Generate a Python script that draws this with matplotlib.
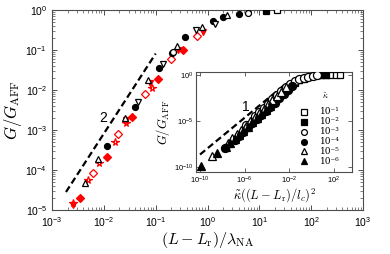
import numpy as np
import matplotlib
matplotlib.use("Agg")
import matplotlib.pyplot as plt

plt.rcParams['font.family'] = ['Liberation Sans', 'DejaVu Sans']
plt.rcParams['mathtext.fontset'] = 'cm'

# ---------------- main panel data (log10 values) ----------------
blk_fcirc_x = [-1.94, -1.40, -0.93, -0.68, -0.43, 0.11, 0.30, 0.60]
blk_fcirc_y = [-3.40, -2.42, -1.45, -1.08, -0.67, -0.27, -0.17, -0.10]
blk_otri_x = [-2.36, -2.11, -1.59, -1.14, -0.58, -0.10, 0.38]
blk_otri_y = [-4.33, -3.73, -2.70, -1.75, -0.90, -0.42, -0.12]
blk_odtri_x = [-1.34, -0.85, -0.23, 0.15]
blk_odtri_y = [-2.30, -1.35, -0.50, -0.35]
blk_ocirc_x = [-0.66, 0.79]
blk_ocirc_y = [-1.06, -0.08]
blk_fsq_x = [1.12]
blk_fsq_y = [-0.03]
blk_osq_x = [1.35]
blk_osq_y = [0.0]
red_fdia_x = [-2.46, -1.94, -1.45, -0.95, -0.47]
red_fdia_y = [-4.70, -3.67, -2.67, -1.72, -1.00]
red_odia_x = [-2.20, -1.72, -1.20, -0.70, -0.20]
red_odia_y = [-4.08, -3.10, -2.10, -1.23, -0.65]
red_star_x = [-2.59, -2.30, -2.09, -1.78, -1.57, -1.07]
red_star_y = [-4.83, -4.25, -3.83, -3.30, -2.82, -1.95]
red_fdtri_x = [-2.59, -1.57, -1.10, -0.56, -0.08]
red_fdtri_y = [-4.87, -2.75, -1.83, -1.00, -0.55]
slope2_x = [-2.73, -1.00]
slope2_y = [-4.55, -1.09]

# ---------------- inset data (log10 values) ----------------
kappa_labels = ['10\u207b\u00b9', '10\u207b\u00b2', '10\u207b\u00b3', '10\u207b\u2074', '10\u207b\u2075', '10\u207b\u2076']
k1_x = [-1.9, -1.1, -0.7, -0.3, 0.1, 0.5, 0.9, 1.3, 1.7, 2.2, 2.6]
k1_y = [-1.2, -0.55, -0.36, -0.2, -0.08, -0.01, 0.02, 0.03, 0.04, 0.05, 0.05]
k2_x = [-3.9, -3.1, -2.7, -2.3, -1.9, -1.5, -1.1, -0.7, -0.3, 0.1, 0.5, 0.9, 1.3]
k2_y = [-3.5, -2.5, -2.05, -1.6, -1.2, -0.85, -0.58, -0.38, -0.2, -0.08, -0.02, 0.02, 0.03]
k3_x = [-5.9, -5.1, -4.7, -4.3, -3.9, -3.5, -3.1, -2.7, -2.3, -1.9, -1.5, -1.1, -0.7, -0.3, 0.1, 0.5]
k3_y = [-5.4, -4.45, -4.0, -3.55, -3.1, -2.65, -2.15, -1.7, -1.3, -0.95, -0.68, -0.47, -0.32, -0.17, -0.06, 0.0]
k4_x = [-7.8, -6.9, -6.5, -6.1, -5.7, -5.3, -4.9, -4.5, -4.1, -3.7, -3.3, -2.9, -2.5, -2.1, -1.7]
k4_y = [-7.9, -7.05, -6.6, -6.15, -5.7, -5.25, -4.8, -4.35, -3.9, -3.45, -3.0, -2.5, -2.05, -1.6, -1.2]
k5_x = [-8.9, -7.5, -7.1, -6.7, -6.3, -5.9, -5.5, -5.1, -4.7, -4.3, -3.9, -3.5, -3.1, -2.7, -2.3]
k5_y = [-8.85, -7.35, -6.9, -6.45, -5.95, -5.5, -5.05, -4.6, -4.15, -3.65, -3.2, -2.75, -2.3, -1.8, -1.35]
k6_x = [-9.9, -8.5, -7.7, -7.3, -6.9, -6.5, -6.1, -5.7, -5.3, -4.9, -4.5, -4.1, -3.7]
k6_y = [-9.95, -8.5, -7.8, -7.4, -6.95, -6.5, -6.05, -5.6, -5.15, -4.7, -4.25, -3.8, -3.35]
slope1_x = [-10.0, -2.3]
slope1_y = [-8.65, -0.95]

def p(v):
    return np.power(10.0, np.asarray(v, dtype=float))

W, H = 390, 254
fig = plt.figure(figsize=(3.9, 2.54), dpi=100)
ax = fig.add_axes([52/W, 1-210/H, 311/W, 200/H])

ms = 4.3
def mk(ax_, x, y, marker, color, filled, size=ms, z=3, **kw):
    ax_.plot(x, y, linestyle='none', marker=marker, markersize=size,
             markerfacecolor=color if filled else 'white',
             markeredgecolor=color, markeredgewidth=0.9, zorder=z, **kw)

mk(ax, p(red_fdia_x), p(red_fdia_y), 'D', 'red', True, 3.6)
mk(ax, p(red_odia_x), p(red_odia_y), 'D', 'red', False, 3.6)
mk(ax, p(red_star_x), p(red_star_y), '*', 'red', False, 5.5)
mk(ax, p(red_fdtri_x), p(red_fdtri_y), 'v', 'red', True)
mk(ax, p(blk_fcirc_x), p(blk_fcirc_y), 'o', 'black', True)
mk(ax, p(blk_otri_x), p(blk_otri_y), '^', 'black', False)
mk(ax, p(blk_odtri_x), p(blk_odtri_y), 'v', 'black', False)
mk(ax, p(blk_ocirc_x), p(blk_ocirc_y), 'o', 'black', False)
mk(ax, p(blk_fsq_x), p(blk_fsq_y), 's', 'black', True, 3.8)
mk(ax, p(blk_osq_x), p(blk_osq_y), 's', 'black', False, 3.8)
ax.plot(p(slope2_x), p(slope2_y), color='black', lw=1.6, dashes=(3, 1.6), zorder=2)
ax.text(10**-2.015, 10**-2.7, '2', fontsize=10, ha='center', va='center')

ax.set_xscale('log'); ax.set_yscale('log')
ax.set_xlim(1e-3, 1e3); ax.set_ylim(1e-5, 1e0)
ax.set_xticks([10.0**k for k in range(-3, 4)])
ax.set_yticks([10.0**k for k in range(-5, 1)])
ax.tick_params(which='both', direction='in', top=True, right=True, labelsize=7.5, colors='0.3', labelcolor='black')
ax.tick_params(which='major', length=3.5, width=0.7)
ax.tick_params(which='minor', length=2, width=0.5)
for s in ax.spines.values():
    s.set_color('0.3'); s.set_linewidth(0.8)
ax.set_xlabel(r'$(L-L_{\rm r})/\lambda_{\rm NA}$', fontsize=11.5, labelpad=1)
ax.set_ylabel(r'$G/G_{\rm AFF}$', fontsize=12, labelpad=1)

# ---------------- inset ----------------
axi = fig.add_axes([196/W, 1-172/H, 156/W, 100/H])
ims = 5.8
series = [(k1_x, k1_y, 's', False, 4.8), (k2_x, k2_y, 's', True, 4.8),
          (k3_x, k3_y, 'o', False, ims), (k4_x, k4_y, 'o', True, ims),
          (k5_x, k5_y, '^', False, ims), (k6_x, k6_y, '^', True, ims)]
for (x, y, m, f, sz) in series:
    mk(axi, p(x), p(y), m, 'black', f, sz)
axi.plot(p(slope1_x), p(slope1_y), color='black', lw=1.6, dashes=(3, 1.6), zorder=2)
axi.text(10**-5.87, 10**-3.48, '1', fontsize=10, ha='center', va='center')
axi.set_xscale('log'); axi.set_yscale('log')
axi.set_xlim(10**-10.36, 10**3.64); axi.set_ylim(10**-10.55, 10**0.33)
axi.set_xticks([1e-10, 1e-6, 1e-2, 1e2])
axi.set_yticks([1e-10, 1e-5, 1e0])
axi.minorticks_off()
axi.tick_params(which='both', direction='in', top=True, right=True, labelsize=5.5,
                length=3, width=0.6, colors='0.3', labelcolor='black', pad=2)
for s in axi.spines.values():
    s.set_color('0.3'); s.set_linewidth(0.8)
axi.set_xlabel(r'$\tilde{\kappa}((L-L_{\rm r})/l_c)^2$', fontsize=9, labelpad=0)
axi.set_ylabel(r'$G/G_{\rm AFF}$', fontsize=9, labelpad=1)

# legend (placed entry by entry)
fig.text(325/W, 1-96/H, r'$\tilde{\kappa}$', fontsize=6, ha='center', va='center')
leg_rows = [112, 122, 132, 141.5, 151, 161]
for (x, y, m, f, sz), lab, ry in zip(series, kappa_labels, leg_rows):
    mk(axi, [304/W], [1-ry/H], m, 'black', f, 4.2, z=5, transform=fig.transFigure, clip_on=False)
    fig.text(320/W, 1-ry/H, lab, fontsize=6.5, ha='left', va='center',
             family=['DejaVu Serif'])

fig.savefig('out.png', dpi=100)
